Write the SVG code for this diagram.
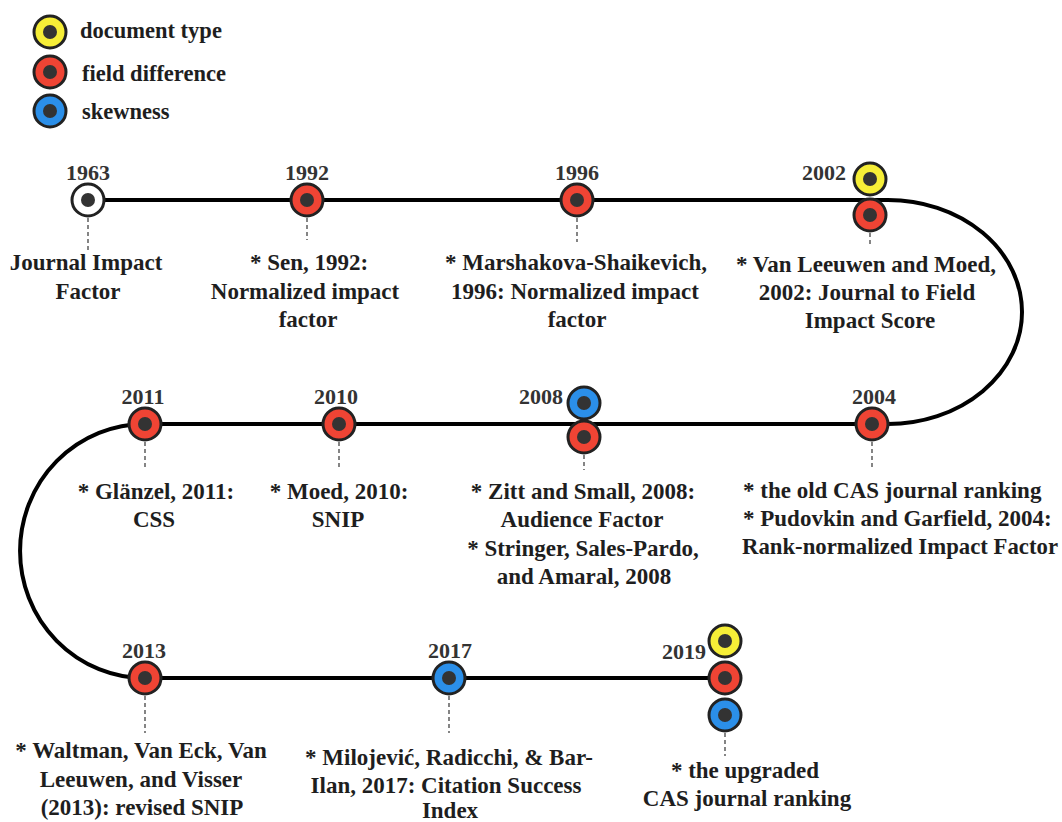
<svg xmlns="http://www.w3.org/2000/svg" width="1062" height="822" viewBox="0 0 1062 822">
<style>
text{font-family:'Liberation Serif','Times New Roman',serif;font-weight:700;font-size:23px;fill:#1e1e1e}
.yr{fill:#333;text-anchor:middle;font-size:22px}
.c{text-anchor:middle}
.lg{font-size:22.5px}
.ring{stroke:#222;stroke-width:3}
.dot{fill:#333}
.y{fill:#f6ee37}.r{fill:#ef4434}.b{fill:#2b8fe9}.w{fill:#fff}
.dash{stroke:#444;stroke-width:1.3;stroke-dasharray:4 3;fill:none}
.tl{fill:none;stroke:#000;stroke-width:4}
</style>
<rect width="1062" height="822" fill="#fff"/>
<g id="legend">
<circle class="ring y" cx="50" cy="32" r="16"/><circle class="dot" cx="50" cy="32" r="7"/>
<circle class="ring r" cx="50" cy="72" r="16"/><circle class="dot" cx="50" cy="72" r="7"/>
<circle class="ring b" cx="50" cy="111" r="16"/><circle class="dot" cx="50" cy="111" r="7"/>
<text class="lg" x="80" y="38">document type</text>
<text class="lg" x="82" y="81">field difference</text>
<text class="lg" x="82" y="119">skewness</text>
</g>
<g id="connectors">
<path class="tl" d="M88,200 H888 A134,112 0 0 1 888,424 H145 A125,127 0 0 0 145,678 H725"/>
<line class="dash" x1="88" y1="218" x2="88" y2="250"/>
<line class="dash" x1="307" y1="218" x2="307" y2="240"/>
<line class="dash" x1="577" y1="218" x2="577" y2="242"/>
<line class="dash" x1="870" y1="233" x2="870" y2="246"/>
<line class="dash" x1="145" y1="442" x2="145" y2="468"/>
<line class="dash" x1="339" y1="442" x2="339" y2="470"/>
<line class="dash" x1="584" y1="455" x2="584" y2="470"/>
<line class="dash" x1="872" y1="442" x2="872" y2="470"/>
<line class="dash" x1="145" y1="696" x2="145" y2="733"/>
<line class="dash" x1="449" y1="696" x2="449" y2="733"/>
<line class="dash" x1="725" y1="733" x2="725" y2="756"/>
</g>
<g id="n1963">
<circle class="ring w" cx="88" cy="200" r="16"/><circle class="dot" cx="88" cy="200" r="7"/>
<text class="yr" x="88" y="180">1963</text>
<text class="c" x="86" y="270">Journal Impact</text>
<text class="c" x="88" y="299">Factor</text>
</g>
<g id="n1992">
<circle class="ring r" cx="307" cy="200" r="16"/><circle class="dot" cx="307" cy="200" r="7"/>
<text class="yr" x="307" y="180">1992</text>
<text class="c" x="309" y="270">* Sen, 1992:</text>
<text class="c" x="305" y="299">Normalized impact</text>
<text class="c" x="308" y="327">factor</text>
</g>
<g id="n1996">
<circle class="ring r" cx="577" cy="200" r="16"/><circle class="dot" cx="577" cy="200" r="7"/>
<text class="yr" x="577" y="180">1996</text>
<text class="c" x="576" y="270">* Marshakova-Shaikevich,</text>
<text class="c" x="575" y="299">1996: Normalized impact</text>
<text class="c" x="577" y="327">factor</text>
</g>
<g id="n2002">
<circle class="ring y" cx="870" cy="179" r="16"/><circle class="dot" cx="870" cy="179" r="7"/>
<circle class="ring r" cx="870" cy="215" r="16"/><circle class="dot" cx="870" cy="215" r="7"/>
<text class="yr" x="824" y="180">2002</text>
<text class="c" x="866" y="272">* Van Leeuwen and Moed,</text>
<text class="c" x="867" y="300">2002: Journal to Field</text>
<text class="c" x="870" y="328">Impact Score</text>
</g>
<g id="n2004">
<circle class="ring r" cx="872" cy="424" r="16"/><circle class="dot" cx="872" cy="424" r="7"/>
<text class="yr" x="874" y="404">2004</text>
<text x="743" y="498">* the old CAS journal ranking</text>
<text x="743" y="526">* Pudovkin and Garfield, 2004:</text>
<text x="742" y="554" textLength="316" lengthAdjust="spacingAndGlyphs">Rank-normalized Impact Factor</text>
</g>
<g id="n2008">
<circle class="ring b" cx="584" cy="403" r="16"/><circle class="dot" cx="584" cy="403" r="7"/>
<circle class="ring r" cx="584" cy="437" r="16"/><circle class="dot" cx="584" cy="437" r="7"/>
<text class="yr" x="541" y="404">2008</text>
<text class="c" x="583" y="499">* Zitt and Small, 2008:</text>
<text class="c" x="582" y="527">Audience Factor</text>
<text class="c" x="583" y="556">* Stringer, Sales-Pardo,</text>
<text class="c" x="584" y="584">and Amaral, 2008</text>
</g>
<g id="n2010">
<circle class="ring r" cx="339" cy="424" r="16"/><circle class="dot" cx="339" cy="424" r="7"/>
<text class="yr" x="336" y="404">2010</text>
<text class="c" x="339" y="499">* Moed, 2010:</text>
<text class="c" x="338" y="527">SNIP</text>
</g>
<g id="n2011">
<circle class="ring r" cx="145" cy="424" r="16"/><circle class="dot" cx="145" cy="424" r="7"/>
<text class="yr" x="143" y="404">2011</text>
<text class="c" x="156" y="499">* Glänzel, 2011:</text>
<text class="c" x="154" y="527">CSS</text>
</g>
<g id="n2013">
<circle class="ring r" cx="145" cy="678" r="16"/><circle class="dot" cx="145" cy="678" r="7"/>
<text class="yr" x="144" y="658">2013</text>
<text class="c" x="141" y="758">* Waltman, Van Eck, Van</text>
<text class="c" x="141" y="787">Leeuwen, and Visser</text>
<text class="c" x="142" y="815">(2013): revised SNIP</text>
</g>
<g id="n2017">
<circle class="ring b" cx="449" cy="678" r="16"/><circle class="dot" cx="449" cy="678" r="7"/>
<text class="yr" x="450" y="658">2017</text>
<text class="c" x="449" y="765">* Milojević, Radicchi, &amp; Bar-</text>
<text class="c" x="446" y="793">Ilan, 2017: Citation Success</text>
<text class="c" x="450" y="818">Index</text>
</g>
<g id="n2019">
<circle class="ring y" cx="725" cy="641" r="16"/><circle class="dot" cx="725" cy="641" r="7"/>
<circle class="ring r" cx="725" cy="678" r="16"/><circle class="dot" cx="725" cy="678" r="7"/>
<circle class="ring b" cx="725" cy="715" r="16"/><circle class="dot" cx="725" cy="715" r="7"/>
<text class="yr" x="684" y="659">2019</text>
<text class="c" x="745" y="778">* the upgraded</text>
<text class="c" x="747" y="806">CAS journal ranking</text>
</g>
</svg>
